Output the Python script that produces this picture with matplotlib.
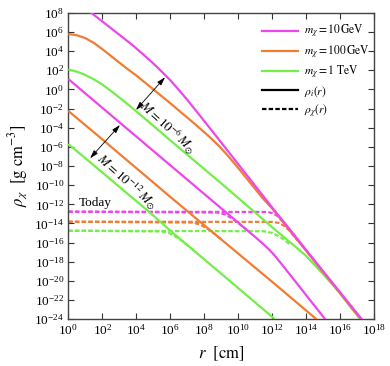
import numpy as np
import matplotlib
matplotlib.use("Agg")
import matplotlib.pyplot as plt
from matplotlib.lines import Line2D

plt.rcParams['font.family'] = ['Liberation Serif', 'DejaVu Serif']
plt.rcParams['mathtext.fontset'] = 'stix'

# ---------------- data (log10 r [cm], log10 rho [g cm^-3]) ----------------
# solid rho_i(r), M = 1e-6 Msun
mag_hi_logr = [0.0, 1.34, 2.5, 3.79, 4.5, 5.0, 5.5, 6.0, 6.5, 7.0, 7.5, 9.02, 12.0, 15.0, 17.4]
mag_hi_logrho = [9.8, 8.0, 6.4, 4.6, 3.5, 2.7, 1.85, 0.95, -0.05, -1.1, -2.2, -5.6, -12.35,
                 -19.0, -24.3]

ora_hi_logr = [0.0, 0.5, 1.0, 1.5, 2.0, 2.5, 3.0, 3.5, 4.0, 5.0, 6.1, 7.5, 8.3, 8.8, 9.3,
               9.9, 10.86, 11.45, 12.0, 15.0, 17.4]
ora_hi_logrho = [5.78, 5.65, 5.35, 4.85, 4.2, 3.5, 2.8, 2.1, 1.45, 0.0, -1.6, -3.7, -4.95,
                 -5.8, -6.75, -8.0, -10.1, -11.4, -12.45, -19.1, -24.4]

grn_hi_logr = [0.0, 0.5, 1.0, 1.5, 2.0, 2.5, 3.0, 3.5, 4.0, 5.0, 6.05, 8.92, 12.0, 13.94,
               15.0, 15.9, 16.5, 17.35]
grn_hi_logrho = [2.07, 1.85, 1.5, 1.05, 0.5, -0.15, -0.85, -1.55, -2.3, -3.8, -5.4, -9.7,
                 -14.4, -17.3, -19.3, -21.1, -22.5, -24.4]

# solid rho_i(r), M = 1e-12 Msun
mag_lo_logr = [0.0, 3.05, 7.35, 10.69, 11.0, 11.5, 11.75, 12.0, 12.25, 12.5, 13.0, 14.0, 15.16]
mag_lo_logrho = [1.08, -3.5, -9.95, -14.96, -15.42, -16.2, -16.61, -17.07, -17.59, -18.13,
                 -19.25, -21.5, -24.1]

ora_lo_logr = [0.0, 1.82, 6.05, 9.02, 12.0, 14.6]
ora_lo_logrho = [-2.25, -4.95, -11.3, -15.7, -20.1, -24.0]

grn_lo_logr = [0.0, 1.28, 4.76, 6.1, 9.0, 12.16]
grn_lo_logrho = [-5.71, -7.6, -12.8, -14.9, -19.25, -24.0]

# dashed rho_chi(r) ("Today"), M = 1e-6 Msun
mag_dhi_logr = [0.0, 11.7, 12.0, 12.3, 12.7, 13.5]
mag_dhi_logrho = [-12.77, -12.80, -12.92, -13.21, -13.93, -15.7]
ora_dhi_logr = [0.0, 12.0, 12.4, 12.7, 13.0, 13.5]
ora_dhi_logrho = [-13.82, -13.84, -13.95, -14.25, -14.73, -15.8]
grn_dhi_logr = [0.0, 11.5, 12.0, 12.5, 13.0]
grn_dhi_logrho = [-14.76, -14.81, -14.99, -15.45, -16.12]

# dashed rho_chi(r), M = 1e-12 Msun
mag_dlo_logr = [0.0, 8.8, 9.2, 9.6, 10.0, 10.5]
mag_dlo_logrho = [-12.77, -12.86, -13.05, -13.43, -13.95, -14.67]
ora_dlo_logr = [0.0, 7.3, 7.77, 8.2, 8.6, 9.0]
ora_dlo_logrho = [-13.82, -13.90, -14.12, -14.56, -15.09, -15.66]
grn_dlo_logr = [0.0, 5.5, 6.0, 6.5, 7.0, 7.5]
grn_dlo_logrho = [-14.76, -14.83, -15.05, -15.57, -16.26, -17.0]

colors = {'mag': '#EC46EC', 'ora': '#F07D32', 'grn': '#74EE48'}
legend_labels = [r'$m_\chi = 10\,\mathrm{GeV}$', r'$m_\chi = 100\,\mathrm{GeV}$',
                 r'$m_\chi = 1\ \mathrm{TeV}$', r'$\rho_i(r)$', r'$\rho_\chi(r)$']

# annotation anchors (log10 r, log10 rho)
arrow1 = [(5.69, 1.26), (3.98, -2.16)]
arrow2 = [(3.04, -3.72), (1.28, -7.2)]
label1_pos = (5.81, -4.05)
label2_pos = (3.43, -9.65)
today_pos = (0.62, -11.83)

# ---------------- figure ----------------
fig = plt.figure(figsize=(3.9, 3.66), dpi=100)
ax = fig.add_axes([0.1751, 0.1277, 0.9597 - 0.1751, 0.9653 - 0.1277])

lw = 1.6
def p(lr, lrho, c, ls='-', z=2):
    ax.plot(10 ** np.asarray(lr), 10 ** np.asarray(lrho), color=c, lw=lw, ls=ls,
            zorder=z, solid_capstyle='butt', dash_capstyle='butt',
            solid_joinstyle='round')

dash = (0, (2.0, 1.0))
# dashed
p(mag_dlo_logr, mag_dlo_logrho, colors['mag'], dash, 2)
p(ora_dlo_logr, ora_dlo_logrho, colors['ora'], dash, 2)
p(grn_dlo_logr, grn_dlo_logrho, colors['grn'], dash, 2)
p(mag_dhi_logr, mag_dhi_logrho, colors['mag'], dash, 2)
p(ora_dhi_logr, ora_dhi_logrho, colors['ora'], dash, 2)
p(grn_dhi_logr, grn_dhi_logrho, colors['grn'], dash, 2)

# solid
p(grn_hi_logr, grn_hi_logrho, colors['grn'], '-', 3)
p(ora_hi_logr, ora_hi_logrho, colors['ora'], '-', 3)
p(mag_hi_logr, mag_hi_logrho, colors['mag'], '-', 3)
p(grn_lo_logr, grn_lo_logrho, colors['grn'], '-', 3)
p(ora_lo_logr, ora_lo_logrho, colors['ora'], '-', 3)
p(mag_lo_logr, mag_lo_logrho, colors['mag'], '-', 3)

ax.set_xscale('log')
ax.set_yscale('log')
ax.set_xlim(1e0, 1e18)
ax.set_ylim(1e-24, 1e8)

ax.set_xticks([10.0 ** k for k in range(0, 19, 2)])
ax.set_yticks([10.0 ** k for k in range(-24, 9, 2)])
ax.minorticks_off()
ax.tick_params(which='major', direction='in', top=True, right=True, length=4,
               width=0.8, labelsize=9.5, pad=3, color='#333333')
for s in ax.spines.values():
    s.set_linewidth(1.0)
    s.set_color('#444444')

ax.set_xlabel(r'$r\ \ [\mathrm{cm}]$', fontsize=12, labelpad=5)
ax.set_ylabel(r'$\rho_\chi\ \ [\mathrm{g\ cm^{-3}}]$', fontsize=12, labelpad=3)

# arrows
for (a, b) in (arrow1, arrow2):
    ax.annotate('', xy=(10 ** a[0], 10 ** a[1]), xytext=(10 ** b[0], 10 ** b[1]),
                arrowprops=dict(arrowstyle='<|-|>,head_length=0.5,head_width=0.15',
                                lw=0.6, color='k', shrinkA=0, shrinkB=0), zorder=5)

ax.text(10 ** label1_pos[0], 10 ** label1_pos[1], r'$M = 10^{-6}\,M_{\odot}$',
        rotation=-42, ha='center', va='center', fontsize=9.5, zorder=5)
ax.text(10 ** label2_pos[0], 10 ** label2_pos[1], r'$M = 10^{-12}\,M_{\odot}$',
        rotation=-42, ha='center', va='center', fontsize=9.5, zorder=5)
ax.text(10 ** today_pos[0], 10 ** today_pos[1], 'Today', ha='left', va='center',
        fontsize=9.5, zorder=5)

handles = [Line2D([], [], color=colors['mag'], lw=lw),
           Line2D([], [], color=colors['ora'], lw=lw),
           Line2D([], [], color=colors['grn'], lw=lw),
           Line2D([], [], color='k', lw=lw),
           Line2D([], [], color='k', lw=lw, ls=dash)]
leg = ax.legend(handles, legend_labels, loc='upper right', frameon=False,
                fontsize=8.3, handlelength=3.1, handletextpad=0.55,
                labelspacing=0.28, borderaxespad=0.5, bbox_to_anchor=(1.02, 1.0))

fig.savefig('out.png', dpi=100)
